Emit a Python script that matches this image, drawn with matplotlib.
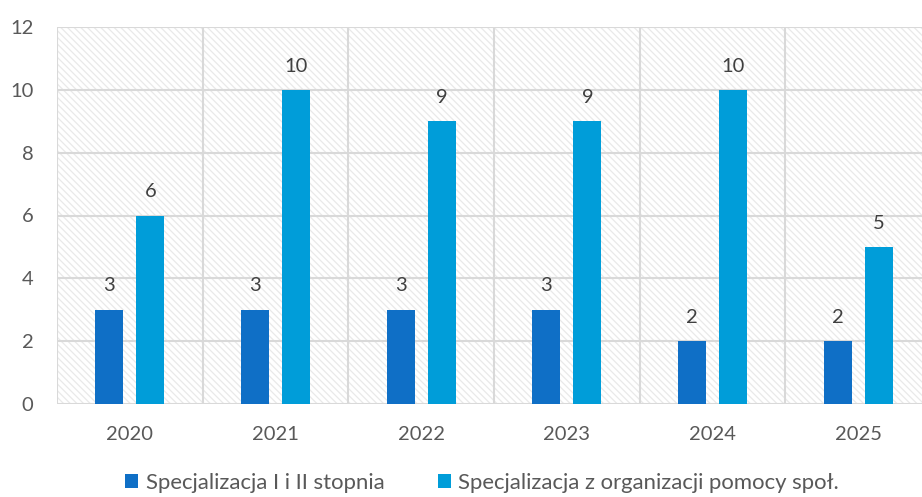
import matplotlib
matplotlib.use("Agg")
import matplotlib.pyplot as plt
import numpy as np
from matplotlib.patches import Rectangle

years = ["2020", "2021", "2022", "2023", "2024", "2025"]
series1_name = "Specjalizacja I i II stopnia"
series2_name = "Specjalizacja z organizacji pomocy społ."
series1 = [3, 3, 3, 3, 2, 2]
series2 = [6, 10, 9, 9, 10, 5]

C1 = "#0F6FC6"
C2 = "#009DD9"
GRID = "#D9D9D9"
TXT = "#595959"
FONT = "Lato"

plt.rcParams["font.family"] = [FONT, "DejaVu Sans"]
plt.rcParams["hatch.linewidth"] = 0.9

fig = plt.figure(figsize=(9.22, 4.97), dpi=100)
ax = fig.add_axes([57 / 922, 93 / 497, 874 / 922, 377 / 497])

x = np.arange(len(years))
bw = 0.193
off = 0.141

# patterned background
ax.add_patch(Rectangle((0, 0), 1, 1, transform=ax.transAxes, facecolor="white",
                       edgecolor="#E9E9E9", linewidth=0, hatch="\\\\\\\\\\", zorder=0))

b1 = ax.bar(x - off, series1, bw, color=C1, zorder=3, label=series1_name)
b2 = ax.bar(x + off, series2, bw, color=C2, zorder=3, label=series2_name)

for bars, vals in ((b1, series1), (b2, series2)):
    for r, v in zip(bars, vals):
        ax.annotate(str(v), (r.get_x() + r.get_width() / 2, r.get_height()),
                    xytext=(0, 11), textcoords="offset points", ha="center",
                    va="bottom", fontsize=14.5, color="#404040")

ax.set_xlim(-0.5, len(years) - 0.5)
ax.set_ylim(0, 12)
ax.set_yticks(range(0, 13, 2))
ax.set_xticks(x)
ax.set_xticklabels(years)
for b in np.arange(-0.5, len(years), 1.0):
    ax.axvline(b, color=GRID, lw=1.5, zorder=1)
for yv in range(0, 13, 2):
    ax.axhline(yv, color=GRID, lw=1.5, zorder=1)
for s in ax.spines.values():
    s.set_visible(False)
ax.tick_params(axis="both", length=0, labelsize=14.5, colors=TXT)
ax.tick_params(axis="x", pad=16)
ax.tick_params(axis="y", pad=17)

fig.legend(loc="center", bbox_to_anchor=(482 / 922, 1 - 483 / 497), ncol=2,
           frameon=False, fontsize=15.9, labelcolor=TXT, handlelength=0.6,
           handleheight=0.6, handletextpad=0.35, columnspacing=2.4,
           borderaxespad=0, borderpad=0)

fig.savefig("out.png", dpi=100)
